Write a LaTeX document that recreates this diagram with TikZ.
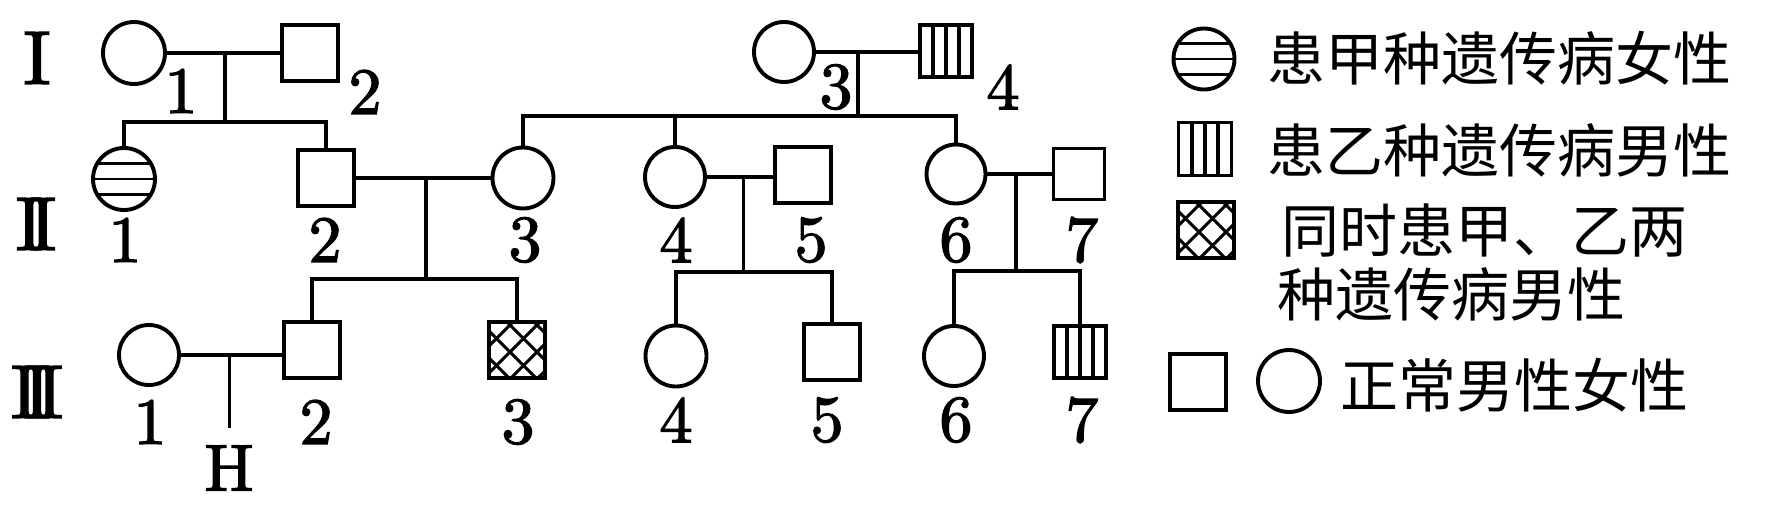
\documentclass[tikz,border=0pt]{standalone}
\usepackage{fontspec}
\newfontfamily\cjk{Noto Sans CJK SC}
\newfontfamily\numfont[FakeBold=2]{lmroman10-regular.otf}
\usetikzlibrary{calc}
\begin{document}
\begin{tikzpicture}[x=1pt,y=-1pt,line width=3.4pt,
  fem/.style={circle,draw,line width=3.9pt,inner sep=0pt,minimum size=#1 pt},
  fem/.default=61,
  mal/.style={rectangle,draw,line width=3.9pt,inner sep=0pt,minimum size=#1 pt},
  mal/.default=56,
  lab/.style={font=\numfont\fontsize{66}{66}\selectfont,inner sep=0pt},
  rom/.style={font=\numfont\fontsize{76}{76}\selectfont,inner sep=0pt},
  legtext/.style={font=\cjk\fontsize{58}{63}\selectfont,inner sep=0pt,anchor=west},
  hstripe/.style={path picture={\foreach \d in {-15.5,0,15.5}{\draw[line width=2.8pt] ([yshift=\d pt]path picture bounding box.west) -- ([yshift=\d pt]path picture bounding box.east);}}},
  vstripe/.style={path picture={\foreach \d in {-13,0,13}{\draw[line width=3.2pt] ([xshift=\d pt]path picture bounding box.north) -- ([xshift=\d pt]path picture bounding box.south);}}},
  xhatch/.style={path picture={
    \foreach \a in {-63,-36,-9,18,45,72}{\draw[line width=3pt] ([xshift=\a pt-60pt,yshift=60pt]path picture bounding box.center) -- ++(120pt,-120pt);}
    \foreach \c in {49,22,-5,-32,-59}{\draw[line width=3pt] ([xshift=\c pt-60pt,yshift=-60pt]path picture bounding box.center) -- ++(120pt,120pt);}}}
]
\useasboundingbox (0,0) rectangle (1771,508);

% generation labels
\node[rom] (gI) at (37,58) {I};
\node[rom] (gII) at (36,224) {I\kern-14pt I};
\node[rom] (gIII) at (37,392) {I\kern-15pt I\kern-15pt I};

% generation I
\node[fem=62] (I1) at (134,53) {};
\node[mal] (I2) at (310,53) {};
\node[fem=60] (I3) at (784,52) {};
\node[mal=52,vstripe] (I4) at (946,51) {};
\node[lab] (lI1) at (181,91) {1};
\node[lab] (lI2) at (365,92) {2};
\node[lab] (lI3) at (836,87) {3};
\node[lab] (lI4) at (1003,87) {4};

% generation II
\node[fem=62,hstripe] (II1) at (124,179) {};
\node[mal] (II2) at (326,178) {};
\node[fem] (II3) at (523,178) {};
\node[fem=60] (II4) at (675,177) {};
\node[mal] (II5) at (803,175) {};
\node[fem=59] (II6) at (956,174) {};
\node[mal=51] (II7) at (1079,174) {};
\node[lab] (lII1) at (125,240) {1};
\node[lab] (lII2) at (325,240) {2};
\node[lab] (lII3) at (525,240) {3};
\node[lab] (lII4) at (676,240) {4};
\node[lab] (lII5) at (811,240) {5};
\node[lab] (lII6) at (956,240) {6};
\node[lab] (lII7) at (1082,240) {7};

% generation III
\node[fem=60] (III1) at (149,355) {};
\node[mal] (III2) at (312,350) {};
\node[mal,xhatch] (III3) at (517,350) {};
\node[fem] (III4) at (676,356) {};
\node[mal] (III5) at (832,352) {};
\node[fem=60] (III6) at (954,356) {};
\node[mal=52,vstripe] (III7) at (1080,352) {};
\node[lab] (lIII1) at (150,422) {1};
\node[lab] (lIII2) at (316,422) {2};
\node[lab] (lIII3) at (518,422) {3};
\node[lab] (lIII4) at (676,420) {4};
\node[lab] (lIII5) at (827,420) {5};
\node[lab] (lIII6) at (956,420) {6};
\node[lab] (lIII7) at (1082,420) {7};
\node[lab] (H) at (229,468) {H};

% connectors
\coordinate (m1) at (225,53);
\coordinate (s1) at (225,122);
\draw (I1.east) -- (I2.west);
\draw (m1) -- (s1);
\draw (II1.north) -- (II1.north |- s1) -- (II2.north |- s1) -- (II2.north);

\coordinate (m2) at (858,52);
\coordinate (s2) at (858,116);
\draw (I3.east) -- (I3.east -| I4.west);
\draw (m2) -- (s2);
\draw (II3.north) -- (II3.north |- s2) -- (II6.north |- s2) -- (II6.north);
\draw (II4.north) -- (II4.north |- s2);

\coordinate (m3) at (426,178);
\coordinate (s3) at (426,279);
\draw (II2.east) -- (II2.east -| II3.west);
\draw (m3) -- (s3);
\draw (III2.north) -- (III2.north |- s3) -- (III3.north |- s3) -- (III3.north);

\coordinate (m4) at (743.5,177);
\coordinate (s4) at (743.5,272);
\draw (II4.east) -- (II4.east -| II5.west);
\draw (m4) -- (s4);
\draw (III4.north) -- (III4.north |- s4) -- (III5.north |- s4) -- (III5.north);

\coordinate (m5) at (1016,174);
\coordinate (s5) at (1016,271);
\draw (II6.east) -- (II6.east -| II7.west);
\draw (m5) -- (s5);
\draw (III6.north) -- (III6.north |- s5) -- (III7.north |- s5) -- (III7.north);

\coordinate (m6) at (229.6,355);
\coordinate (hend) at (229.6,428);
\draw (III1.east) -- (III1.east -| III2.west);
\draw (m6) -- (hend);

% legend
\node[fem=61,hstripe] (L1) at (1204,59) {};
\node[legtext] (t1) at (1266,58) {患甲种遗传病女性};
\node[mal=53,vstripe] (L2) at (1205,149) {};
\node[legtext] (t2) at (1266,150) {患乙种遗传病男性};
\node[mal,xhatch] (L3) at (1206,230) {};
\node[legtext] (t3) at (1280,231) {同时患甲、乙两};
\node[legtext] (t4) at (1276,294) {种遗传病男性};
\node[mal] (L4) at (1198,382) {};
\node[fem=62] (L5) at (1289,381) {};
\node[legtext] (t5) at (1339,385) {正常男性女性};
\end{tikzpicture}
\end{document}
